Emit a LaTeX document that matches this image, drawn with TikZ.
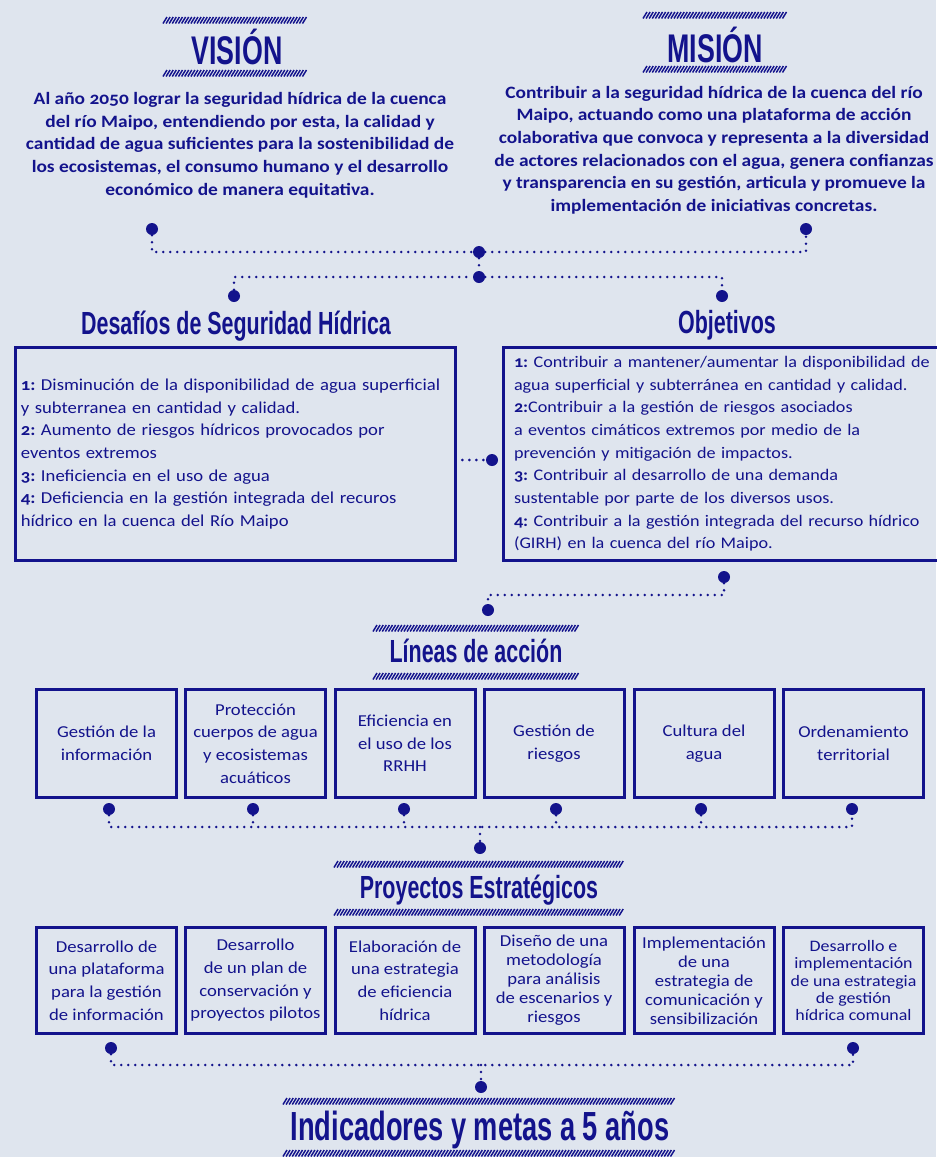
\documentclass[tikz,border=0pt]{standalone}
\usepackage{fontspec}
\setmainfont{Carlito}[Numbers=OldStyle, FakeStretch=1.12]
\newfontfamily\headfont{Liberation Sans}[FakeStretch=0.67]
\usetikzlibrary{positioning}
\definecolor{navy}{RGB}{19,19,140}
\definecolor{paper}{RGB}{223,229,238}
\frenchspacing
\hyphenpenalty=10000
\exhyphenpenalty=10000

\tikzstyle{headtitle} = [text=navy, inner sep=0, anchor=base, font=\headfont\bfseries\fontsize{24}{24}\selectfont]
\tikzstyle{bigtitle} = [headtitle, font=\headfont\bfseries\fontsize{30}{30}\selectfont]
\tikzstyle{statement} = [text=navy, align=center, inner sep=0, font=\bfseries\fontsize{13}{17}\selectfont]
\tikzstyle{listbox} = [rectangle, draw=navy, line width=2.25pt, text=navy, align=left, minimum height=160pt, inner ysep=2pt, font=\fontsize{12.5}{17}\selectfont]
\tikzstyle{linebox} = [rectangle, draw=navy, line width=2.25pt, text=navy, align=center, minimum width=105pt, minimum height=81pt, inner sep=0.5pt, font=\fontsize{12.5}{17}\selectfont]
\tikzstyle{projbox} = [linebox, minimum height=79.5pt]
\tikzstyle{bigdot} = [circle, fill=navy, inner sep=0, minimum size=9pt]
\tikzstyle{dotline} = [navy, line width=2.2pt, line cap=round, dash pattern=on 0pt off 5.25pt]
\tikzstyle{hatchline} = [navy, line width=1.1pt]

% striped bar above and below the titles: left x, right x, top y
\newcommand{\hatchbar}[3]{%
  \pgfmathtruncatemacro{\nh}{(#2-#1-4)/3.1}
  \foreach \k in {0,...,\nh}
    \draw[hatchline] (#1+\k*3.1,#3+6.5) -- (#1+\k*3.1+4,#3);
}

\begin{document}
\begin{tikzpicture}[x=0.75pt,y=-0.75pt]
  \useasboundingbox (0,0) rectangle (936,1157);
  \fill[paper] (0,0) rectangle (936,1157);

  % vision / mision
  \hatchbar{163}{308}{17}
  \node (vision) [bigtitle] at (237,64) {VISIÓN};
  \hatchbar{163}{308}{70}
  \node (visiontxt) [statement] at (240,145) {Al año 2050 lograr la seguridad hídrica de la cuenca\\
    del río Maipo, entendiendo por esta, la calidad y\\
    cantidad de agua suficientes para la sostenibilidad de\\
    los ecosistemas, el consumo humano y el desarrollo\\
    económico de manera equitativa.};

  \hatchbar{643}{788}{12}
  \node (mision) [bigtitle] at (715,62) {MISIÓN};
  \hatchbar{643}{788}{66}
  \node (misiontxt) [statement] at (714,150) {Contribuir a la seguridad hídrica de la cuenca del río\\
    Maipo, actuando como una plataforma de acción\\
    colaborativa que convoca y representa a la diversidad\\
    de actores relacionados con el agua, genera confianzas\\
    y transparencia en su gestión, articula y promueve la\\
    implementación de iniciativas concretas.};

  \node (vdot) [bigdot] at (152,229) {};
  \node (mdot) [bigdot] at (806,229) {};
  \node (hub1) [bigdot] at (479,252) {};
  \node (hub2) [bigdot] at (479,277) {};
  \node (ddot) [bigdot] at (234,296) {};
  \node (odot) [bigdot] at (722,296) {};
  \draw[dotline] (vdot) |- (hub1);
  \draw[dotline] (hub1) -| (mdot);
  \draw[dotline] (hub1) -- (hub2);
  \draw[dotline] (ddot) |- (hub2);
  \draw[dotline] (hub2) -| (odot);

  % desafios / objetivos
  \node (desafiostit) [headtitle] at (236,334) {Desafíos de Seguridad Hídrica};
  \node (objetivostit) [headtitle] at (727,333) {Objetivos};

  \node (desafios) [listbox, text width=322pt, inner xsep=4pt] at (235.5,454) {\textbf{1:} Disminución de la disponibilidad de agua superficial\\
    y subterranea en cantidad y calidad.\\
    \textbf{2:} Aumento de riesgos hídricos provocados por\\
    eventos extremos\\
    \textbf{3:} Ineficiencia en el uso de agua\\
    \textbf{4:} Deficiencia en la gestión integrada del recuros\\
    hídrico en la cuenca del Río Maipo};
  \node (objetivos) [listbox, text width=337.5pt, inner xsep=7.9pt, font=\fontsize{12.15}{17}\selectfont] at (739,454) {\textbf{1:} Contribuir a mantener/aumentar la disponibilidad de\\
    agua superficial y subterránea en cantidad y calidad.\\
    \textbf{2:}Contribuir a la gestión de riesgos asociados\\
    a eventos cimáticos extremos por medio de la\\
    prevención y mitigación de impactos.\\
    \textbf{3:} Contribuir al desarrollo de una demanda\\
    sustentable por parte de los diversos usos.\\
    \textbf{4:} Contribuir a la gestión integrada del recurso hídrico\\
    (GIRH) en la cuenca del río Maipo.};

  \node (sdot) [bigdot] at (492,460) {};
  \draw[dotline, shorten <=4pt] (desafios.east |- sdot) -- (sdot);

  \node (odot2) [bigdot] at (724,577) {};
  \node (ldot) [bigdot] at (488,610) {};
  \draw[dotline] (odot2) -- ++(0,18) -| (ldot);

  % lineas de accion
  \hatchbar{373}{579}{625}
  \node (lineas) [headtitle] at (476,662) {Líneas de acción};
  \hatchbar{373}{579}{673}

  \node (l1) [linebox] at (106.5,743.5) {Gestión de la\\información};
  \node (l2) [linebox] at (255.5,743.5) {Protección\\cuerpos de agua\\y ecosistemas\\acuáticos};
  \node (l3) [linebox] at (405,743.5) {Eficiencia en\\el uso de los\\RRHH};
  \node (l4) [linebox] at (554,743.5) {Gestión de\\riesgos};
  \node (l5) [linebox] at (704,743.5) {Cultura del\\agua};
  \node (l6) [linebox] at (853.5,743.5) {Ordenamiento\\territorial};

  \node (ld1) [bigdot] at (109,809) {};
  \node (ld2) [bigdot] at (253,809) {};
  \node (ld3) [bigdot] at (404,809) {};
  \node (ld4) [bigdot] at (556,809) {};
  \node (ld5) [bigdot] at (701,809) {};
  \node (ld6) [bigdot] at (852,809) {};
  \coordinate (ljoin) at (480,827);
  \draw[dotline] (ld1) -- ++(0,18) -| (ld6);
  \draw[dotline] (ld2) -- ++(0,18);
  \draw[dotline] (ld3) -- ++(0,18);
  \draw[dotline] (ld4) -- ++(0,18);
  \draw[dotline] (ld5) -- ++(0,18);
  \node (pdot) [bigdot] at (480,848) {};
  \draw[dotline] (ljoin) -- (pdot);

  % proyectos estrategicos
  \hatchbar{334}{626}{861}
  \node (proyectos) [headtitle] at (479,898) {Proyectos Estratégicos};
  \hatchbar{334}{626}{909}

  \node (p1) [projbox] at (106.5,980.5) {Desarrollo de\\una plataforma\\para la gestión\\de información};
  \node (p2) [projbox] at (255.5,980.5) {Desarrollo\\de un plan de\\conservación y\\proyectos pilotos};
  \node (p3) [projbox] at (405,980.5) {Elaboración de\\una estrategia\\de eficiencia\\hídrica};
  \node (p4) [projbox, font=\fontsize{12.5}{14.25}\selectfont] at (554,980.5) {Diseño de una\\metodología\\para análisis\\de escenarios y\\riesgos};
  \node (p5) [projbox, font=\fontsize{12.5}{14.25}\selectfont] at (704,980.5) {Implementación\\de una\\estrategia de\\comunicación y\\sensibilización};
  \node (p6) [projbox, font=\fontsize{12}{13}\selectfont] at (853.5,980.5) {Desarrollo e\\implementación\\de una estrategia\\de gestión\\hídrica comunal};

  \node (pd1) [bigdot] at (111,1048) {};
  \node (pd6) [bigdot] at (853,1048) {};
  \draw[dotline] (pd1) -- ++(0,17) -| (pd6);
  \coordinate (pjoin) at (481,1065);
  \node (idot) [bigdot] at (481,1087) {};
  \draw[dotline] (pjoin) -- (idot);

  % indicadores
  \hatchbar{283}{675}{1098}
  \node (indicadores) [bigtitle, font=\headfont\bfseries\fontsize{30.5}{30.5}\selectfont] at (480,1140) {Indicadores y metas a 5 años};
  \hatchbar{283}{675}{1150}
\end{tikzpicture}
\end{document}
